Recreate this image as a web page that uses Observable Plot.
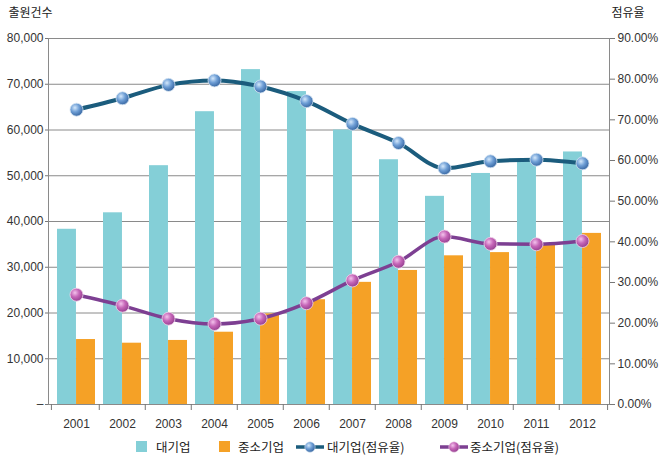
<!DOCTYPE html>
<html><head><meta charset="utf-8">
<script src="https://cdn.jsdelivr.net/npm/d3@7"></script>
<script src="https://cdn.jsdelivr.net/npm/@observablehq/plot@0.6"></script>
<style>
body{margin:0;background:#fff;}
#chart{position:relative;width:666px;height:461px;background:#fff;overflow:hidden;}
#chart svg.plotsvg{display:block;}
.sw{position:absolute;top:441px;width:11px;height:11px;}
.lt{position:absolute;top:439px;height:16px;line-height:16px;font-family:"Noto Sans CJK KR","Noto Sans",sans-serif;font-size:12.5px;color:#222;white-space:nowrap;}
.ls{position:absolute;top:441px;}
</style></head><body>
<svg width="0" height="0" style="position:absolute">
<defs>
<radialGradient id="gBlue" cx="0.38" cy="0.35" r="0.72">
<stop offset="0" stop-color="#d4e8fb"/><stop offset="0.45" stop-color="#6f9fd6"/><stop offset="1" stop-color="#2f5e9a"/>
</radialGradient>
<radialGradient id="gPurple" cx="0.38" cy="0.35" r="0.72">
<stop offset="0" stop-color="#f3c2ec"/><stop offset="0.45" stop-color="#c666b8"/><stop offset="1" stop-color="#8e3a8a"/>
</radialGradient>
</defs></svg>
<div id="chart"></div>
<script>
const years = ["2001","2002","2003","2004","2005","2006","2007","2008","2009","2010","2011","2012"];
const largeCount = [38300, 41900, 52200, 64000, 73200, 68400, 60000, 53500, 45500, 50500, 53200, 55200];
const smeCount = [14200, 13400, 14000, 15800, 19800, 22900, 26700, 29300, 32500, 33200, 35100, 37400];
const largeShare = [72.5, 75.3, 78.6, 79.7, 78.2, 74.6, 69.0, 64.3, 58.1, 59.8, 60.2, 59.3];
const smeShare = [27.0, 24.3, 21.1, 19.8, 21.1, 24.9, 30.5, 35.1, 41.3, 39.5, 39.4, 40.2];
const leftTicks = [0, 10000, 20000, 30000, 40000, 50000, 60000, 70000, 80000];
const pctTicks = [0, 10, 20, 30, 40, 50, 60, 70, 80, 90];
const seriesNames = ["대기업", "중소기업", "대기업(점유율)", "중소기업(점유율)"];
const leftTitle = "출원건수";
const rightTitle = "점유율";

const colLarge = "#84cfd7", colSme = "#f5a126", colLine1 = "#1b5c7d", colLine2 = "#7d3f92";
const yMax = 80000, pMax = 90;
const toY = p => p / pMax * yMax;
const rows = years.map((year, i) => ({year, large: largeCount[i], sme: smeCount[i], ls: toY(largeShare[i]), ss: toY(smeShare[i])}));

const numFont = "Liberation Sans, Arial, sans-serif";
const krFont = "Noto Sans CJK KR, Noto Sans, sans-serif";

const plot = Plot.plot({
  width: 666, height: 432,
  marginTop: 38, marginBottom: 28, marginLeft: 48, marginRight: 57,
  style: {fontFamily: numFont, fontSize: "12px", color: "#333", background: "#fff"},
  x: {type: "band", domain: years, paddingInner: 0.18, paddingOuter: 0.13, label: null},
  y: {domain: [0, yMax], label: null},
  marks: [
    Plot.gridY({ticks: leftTicks, stroke: "#8a8a8a", strokeOpacity: 1}),
    Plot.barY(rows, {x: "year", y: "large", fill: colLarge, insetRight: 19.04}),
    Plot.barY(rows, {x: "year", y: "sme", fill: colSme, insetLeft: 19.04}),
    Plot.frame({stroke: "#8a8a8a"}),
    Plot.ruleX(years.slice(1), {x: d => d, y1: 0, y2: 0, dx: -23.22, insetBottom: -6, stroke: "#777"}),
    Plot.ruleX(years.slice(0, 1), {x: d => d, y1: 0, y2: 0, dx: -25.08, insetBottom: -6, stroke: "#777"}),
    Plot.ruleX(years.slice(-1), {x: d => d, y1: 0, y2: 0, dx: 25.08, insetBottom: -6, stroke: "#777"}),
    Plot.axisY({ticks: leftTicks, tickFormat: d => d === 0 ? "–" : d3.format(",")(d), tickSize: 3, tickPadding: 2, label: null, stroke: "#777", fill: "#333", fontSize: 12}),
    Plot.axisY({anchor: "right", ticks: pctTicks.map(toY), tickFormat: d => (d / yMax * pMax).toFixed(2) + "%", tickSize: 5, tickPadding: 3, label: null, stroke: "#777", fill: "#333", fontSize: 12}),
    Plot.axisX({tickSize: 0, tickPadding: 15, label: null, fill: "#333", fontSize: 12}),
    Plot.line(rows, {x: "year", y: "ls", stroke: colLine1, strokeWidth: 4, curve: "monotone-x"}),
    Plot.dot(rows, {x: "year", y: "ls", r: 6.5, fill: "url(#gBlue)", stroke: "#d6e5f2", strokeWidth: 0.8}),
    Plot.line(rows, {x: "year", y: "ss", stroke: colLine2, strokeWidth: 3.5, curve: "monotone-x"}),
    Plot.dot(rows, {x: "year", y: "ss", r: 6.5, fill: "url(#gPurple)", stroke: "#f0d6ec", strokeWidth: 0.8}),
    Plot.text([leftTitle], {text: d => d, frameAnchor: "top-left", dx: -40, dy: -25, textAnchor: "start", lineAnchor: "middle", fontFamily: krFont, fontSize: 12, fill: "#222"}),
    Plot.text([rightTitle], {text: d => d, frameAnchor: "top-right", dx: 2, dy: -25, textAnchor: "start", lineAnchor: "middle", fontFamily: krFont, fontSize: 12, fill: "#222"})
  ]
});
plot.classList.add("plotsvg");
const chart = document.getElementById("chart");
chart.appendChild(plot);

// legend
function add(html) { chart.insertAdjacentHTML("beforeend", html); }
add(`<div class="sw" style="left:136px;background:${colLarge}"></div>`);
add(`<div class="lt" style="left:156px">${seriesNames[0]}</div>`);
add(`<div class="sw" style="left:219px;background:${colSme}"></div>`);
add(`<div class="lt" style="left:238px">${seriesNames[1]}</div>`);
add(`<svg class="ls" style="left:296px" width="28" height="12"><line x1="0" x2="28" y1="6" y2="6" stroke="${colLine1}" stroke-width="3.5"/><circle cx="14" cy="6" r="5.2" fill="url(#gBlue)" stroke="#d6e5f2" stroke-width="0.6"/></svg>`);
add(`<div class="lt" style="left:327px">${seriesNames[2]}</div>`);
add(`<svg class="ls" style="left:440px" width="28" height="12"><line x1="0" x2="28" y1="6" y2="6" stroke="${colLine2}" stroke-width="3.5"/><circle cx="14" cy="6" r="5.2" fill="url(#gPurple)" stroke="#f0d6ec" stroke-width="0.6"/></svg>`);
add(`<div class="lt" style="left:470px">${seriesNames[3]}</div>`);
</script>
</body></html>
